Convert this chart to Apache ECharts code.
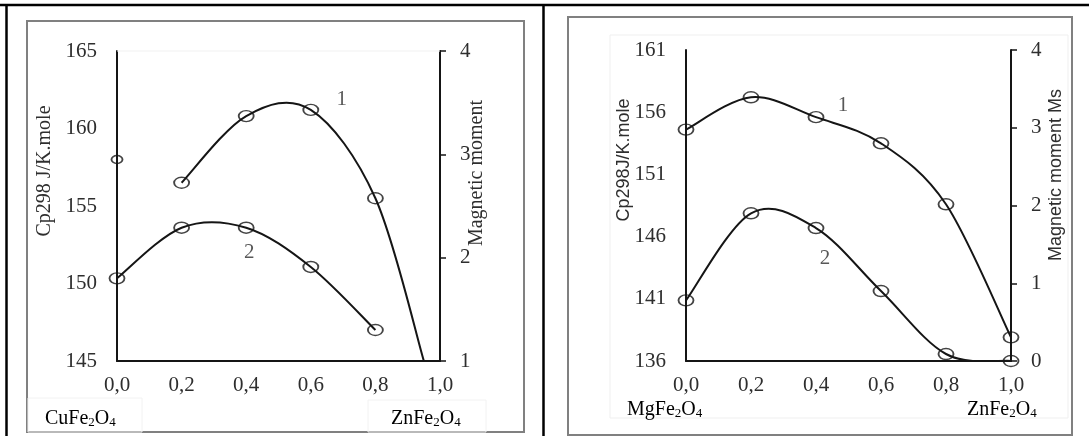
<!DOCTYPE html>
<html>
<head>
<meta charset="utf-8">
<script src="https://cdn.jsdelivr.net/npm/echarts@6/dist/echarts.min.js"></script>
<style>
  html, body { margin: 0; padding: 0; background: #fff; }
  #chart { width: 1089px; height: 436px; }
</style>
</head>
<body>
<div id="chart"></div>
<script>
// x: mole fraction of ZnFe2O4 in the solid solution
const xTicks = [0, 0.2, 0.4, 0.6, 0.8, 1.0];

// CuFe2O4 – ZnFe2O4 system
const cuX = [0, 0.2, 0.4, 0.6, 0.8];
const cuCp = [158.0, 156.5, 160.8, 161.2, 155.5];   // curve 1, Cp298 J/K.mole
const cuCpTail = [0.95, 145.0];                     // curve 1 reaches the axis floor here
const cuMs = [1.80, 2.29, 2.29, 1.91, 1.30];        // curve 2, magnetic moment
const cuCpTicks = [145, 150, 155, 160, 165];
const cuMsTicks = [1, 2, 3, 4];

// MgFe2O4 – ZnFe2O4 system
const mgX = [0, 0.2, 0.4, 0.6, 0.8, 1.0];
const mgCp = [154.6, 157.2, 155.6, 153.5, 148.6, 137.9]; // curve 1
const mgMs = [0.78, 1.90, 1.71, 0.90, 0.09, 0.0];        // curve 2
const mgCpTicks = [136, 141, 146, 151, 156, 161];
const mgMsTicks = [0, 1, 2, 3, 4];

const SERIF = '"Liberation Serif", "Times New Roman", serif';
const SANS = '"Liberation Sans", Arial, sans-serif';
const INK = '#151515';
const LABEL = '#2e2e2e';
const RING = 'path://M0,6a8,6 0 1,0 16,0a8,6 0 1,0 -16,0z';
const TENSION = 1 / 6;   // Catmull-Rom control-point factor

const chart = echarts.init(document.getElementById('chart'), null, { renderer: 'canvas' });

function axisRange(ticks) {
  return { min: ticks[0], max: ticks[ticks.length - 1], interval: ticks[1] - ticks[0] };
}

function xAxisFor(gridIndex) {
  return {
    type: 'value', gridIndex,
    min: xTicks[0], max: xTicks[xTicks.length - 1], interval: xTicks[1] - xTicks[0],
    axisLine: { show: true, onZero: false, lineStyle: { color: INK, width: 2 } },
    axisTick: { show: false },
    splitLine: { show: false },
    axisLabel: {
      margin: 14, color: LABEL, fontFamily: SERIF, fontSize: 21,
      formatter: v => v.toFixed(1).replace('.', ',')
    }
  };
}

function yAxisFor(gridIndex, ticks, side) {
  return Object.assign({
    type: 'value', gridIndex, position: side,
    axisLine: { show: true, onZero: false, lineStyle: { color: INK, width: 2 } },
    axisTick: { show: side === 'right', inside: false, length: 6, lineStyle: { color: INK, width: 1.5 } },
    splitLine: { show: false },
    axisLabel: { margin: 20, color: LABEL, fontFamily: SERIF, fontSize: 21 }
  }, axisRange(ticks));
}

function curveLabel(text, offset) {
  return {
    show: true, position: 'inside', offset,
    formatter: text, color: LABEL, fontFamily: SERIF, fontSize: 21
  };
}

function pairs(xs, ys) {
  return xs.map((x, i) => [x, ys[i]]);
}

// smooth curve through the measured points, drawn as one bezier path in pixel space
function spline(name, xi, yi, pts) {
  return {
    name, type: 'custom', coordinateSystem: 'cartesian2d',
    xAxisIndex: xi, yAxisIndex: yi,
    data: pts, encode: { x: 0, y: 1 }, clip: true, silent: true, z: 2,
    renderItem(params, api) {
      if (params.dataIndex !== 0) return null;
      const P = pts.map(p => api.coord(p));
      let d = 'M' + P[0][0] + ',' + P[0][1];
      for (let i = 0; i < P.length - 1; i++) {
        const p0 = P[Math.max(i - 1, 0)], p1 = P[i], p2 = P[i + 1], p3 = P[Math.min(i + 2, P.length - 1)];
        const c1x = p1[0] + (p2[0] - p0[0]) * TENSION, c1y = p1[1] + (p2[1] - p0[1]) * TENSION;
        const c2x = p2[0] - (p3[0] - p1[0]) * TENSION, c2y = p2[1] - (p3[1] - p1[1]) * TENSION;
        d += ' C' + c1x + ',' + c1y + ' ' + c2x + ',' + c2y + ' ' + p2[0] + ',' + p2[1];
      }
      return {
        type: 'path', shape: { pathData: d },
        style: { fill: 'none', stroke: INK, lineWidth: 2, lineJoin: 'round' }
      };
    }
  };
}

// ring markers at the measured compositions
function rings(name, xi, yi, pts, labelAt, labelText, labelOffset, size) {
  return {
    name, type: 'scatter', xAxisIndex: xi, yAxisIndex: yi,
    data: pts.map((p, i) => {
      const item = { value: p };
      if (i === labelAt) item.label = curveLabel(labelText, labelOffset);
      return item;
    }),
    symbol: RING, symbolSize: size || [15, 11], symbolKeepAspect: false,
    itemStyle: { color: 'rgba(255,255,255,0)', borderColor: INK, borderWidth: 1.6 },
    emphasis: { disabled: true }, z: 3
  };
}

const cuCpPts = pairs(cuX, cuCp);
const cuMsPts = pairs(cuX, cuMs);
const mgCpPts = pairs(mgX, mgCp);
const mgMsPts = pairs(mgX, mgMs);

const series = [
  // Cu system, curve 1: the first composition stands apart from the drawn curve
  spline('Cp298 Cu', 0, 0, cuCpPts.slice(1).concat([cuCpTail])),
  rings('Cp298 Cu points', 0, 0, cuCpPts.slice(1), 2, '1', [31, -10]),
  rings('Cp298 Cu x=0', 0, 0, cuCpPts.slice(0, 1), -1, '', null, [11, 8]),
  // Cu system, curve 2
  spline('Ms Cu', 0, 1, cuMsPts),
  rings('Ms Cu points', 0, 1, cuMsPts, 2, '2', [3, 25]),
  // Mg system
  spline('Cp298 Mg', 1, 2, mgCpPts),
  rings('Cp298 Mg points', 1, 2, mgCpPts, 2, '1', [27, -12]),
  spline('Ms Mg', 1, 3, mgMsPts),
  rings('Ms Mg points', 1, 3, mgMsPts, 2, '2', [9, 30])
];

function vText(x, y, text, font) {
  return {
    type: 'text', x, y, rotation: Math.PI / 2, z: 10,
    style: {
      text, font, fill: LABEL,
      textAlign: 'center', textVerticalAlign: 'middle',
      align: 'center', verticalAlign: 'middle'
    }
  };
}

function formula(x, y, head) {
  const base = { fontFamily: SERIF, fontSize: 20, color: LABEL, lineHeight: 22, verticalAlign: 'bottom' };
  const sub = { fontFamily: SERIF, fontSize: 13, color: LABEL, lineHeight: 8, verticalAlign: 'bottom' };
  return {
    type: 'text', x, y, z: 10,
    style: {
      text: '{a|' + head + 'Fe}{s|2}{a|O}{s|4}',
      rich: { a: base, s: sub },
      textVerticalAlign: 'middle', verticalAlign: 'middle'
    }
  };
}

function line(x1, y1, x2, y2, color, width) {
  return { type: 'line', z: 1, shape: { x1, y1, x2, y2 }, style: { stroke: color, lineWidth: width } };
}

function frame(x, y, width, height, color, lw) {
  return { type: 'rect', z: 1, shape: { x, y, width, height }, style: { fill: 'none', stroke: color, lineWidth: lw } };
}

const graphic = [
  // table rules
  line(0, 5, 1089, 5, '#000', 2.5),
  line(6.5, 4, 6.5, 436, '#000', 2.5),
  line(543.5, 4, 543.5, 436, '#000', 2.5),
  // panel frames
  frame(27, 21, 497, 411, '#808080', 2),
  frame(568, 17, 504, 418, '#808080', 2),
  // faint chart-area outlines
  line(117, 51, 440, 51, '#f1f1f1', 1),
  frame(28, 398, 114, 34, '#f2f2f2', 1),
  frame(368, 400, 118, 32, '#f2f2f2', 1),
  frame(610, 35, 458, 383, '#efefef', 1),
  // axis titles
  vText(45, 171, 'Cp298 J/K.mole', '20px ' + SERIF),
  vText(477, 173, 'Magnetic moment', '20px ' + SERIF),
  vText(624, 160, 'Cp298J/K.mole', '18px ' + SANS),
  vText(1056, 175, 'Magnetic moment Ms', '18px ' + SANS),
  // end-member compositions
  formula(45, 418, 'Cu'),
  formula(391, 418, 'Zn'),
  formula(627, 409, 'Mg'),
  formula(967, 409, 'Zn')
];

chart.setOption({
  animation: false,
  backgroundColor: '#ffffff',
  grid: [
    { left: 117, top: 51, width: 323, height: 310, containLabel: false },
    { left: 686, top: 50, width: 325, height: 311, containLabel: false }
  ],
  xAxis: [xAxisFor(0), xAxisFor(1)],
  yAxis: [
    yAxisFor(0, cuCpTicks, 'left'),
    yAxisFor(0, cuMsTicks, 'right'),
    yAxisFor(1, mgCpTicks, 'left'),
    yAxisFor(1, mgMsTicks, 'right')
  ],
  series,
  graphic
});
</script>
</body>
</html>
